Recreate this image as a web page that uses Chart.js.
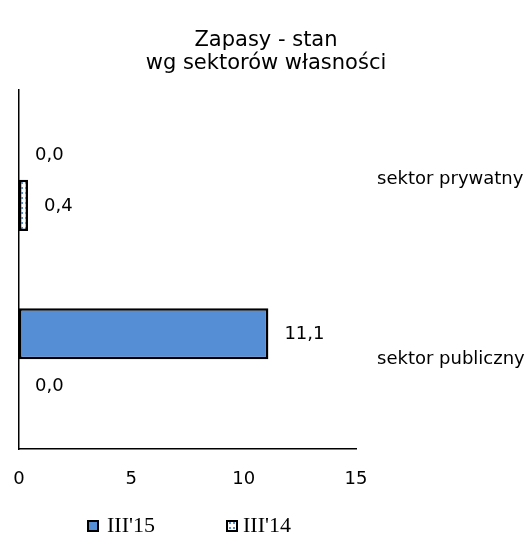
<!DOCTYPE html>
<html>
<head>
<title>Zapasy</title>
<script src="https://cdn.jsdelivr.net/npm/chart.js"></script>
<style>
body{margin:0;background:#fff;}
</style>
</head>
<body>
<canvas id="myChart" width="532" height="535"></canvas>
<script>
// dane
const categories = ['sektor prywatny', 'sektor publiczny'];
const seriesNames = ["III'15", "III'14"];
const values15 = [0.0, 11.1];
const values14 = [0.4, 0.0];
const xTicks = [0, 5, 10, 15];

const blue = 'rgb(85,142,213)';

// wzor w kropki dla III'14
function dotPattern() {
  var c = document.createElement('canvas');
  c.width = 4; c.height = 5;
  var g = c.getContext('2d');
  g.fillStyle = '#fff';
  g.fillRect(0, 0, 4, 5);
  g.fillStyle = blue;
  g.fillRect(1, 2, 2, 2);
  return g.createPattern(c, 'repeat');
}

// etykiety wartosci przy slupkach
const valueLabels = {
  id: 'valueLabels',
  afterDatasetsDraw(chart) {
    const ctx = chart.ctx;
    ctx.save();
    ctx.font = '18px "DejaVu Sans"';
    ctx.fillStyle = '#000';
    ctx.textAlign = 'left';
    ctx.textBaseline = 'middle';
    chart.data.datasets.forEach((ds, i) => {
      chart.getDatasetMeta(i).data.forEach((el, j) => {
        var txt = ds.data[j].toFixed(1).replace('.', ',');
        ctx.fillText(txt, el.x + 16, el.y + 1);
      });
    });
    ctx.restore();
  }
};

// legenda na dole (wlasna, zeby odstepy byly jak w oryginale)
const bottomLegend = {
  id: 'bottomLegend',
  afterDraw(chart) {
    const ctx = chart.ctx;
    const pos = [[88, 107], [227, 243]];
    ctx.save();
    ctx.font = '22px "Liberation Serif"';
    ctx.textBaseline = 'middle';
    ctx.textAlign = 'left';
    chart.data.datasets.forEach((ds, i) => {
      ctx.fillStyle = ds.backgroundColor;
      ctx.fillRect(pos[i][0], 521, 10, 10);
      ctx.strokeStyle = '#000';
      ctx.lineWidth = 2;
      ctx.strokeRect(pos[i][0], 521, 10, 10);
      ctx.fillStyle = '#000';
      ctx.fillText(ds.label, pos[i][1], 526);
    });
    ctx.restore();
  }
};

const data = {
  labels: categories,
  datasets: [{
    label: seriesNames[0],
    data: values15,
    backgroundColor: blue,
    borderColor: '#000',
    borderWidth: c => (c.raw === 0 ? 0 : 2.5),
    borderSkipped: false
  }, {
    label: seriesNames[1],
    data: values14,
    backgroundColor: dotPattern(),
    borderColor: '#000',
    borderWidth: c => (c.raw === 0 ? 0 : 2.5),
    borderSkipped: false
  }]
};

const config = {
  type: 'bar',
  data: data,
  options: {
    indexAxis: 'y',
    responsive: false,
    animation: false,
    layout: { padding: { left: 0, right: 0, top: 0, bottom: 40 } },
    datasets: { bar: { categoryPercentage: 0.57, barPercentage: 1 } },
    scales: {
      x: {
        min: 0, max: 15,
        afterBuildTicks: s => { s.ticks = xTicks.map(v => ({ value: v })); },
        grid: { display: false },
        border: { display: true, color: '#000', width: 1.5 },
        ticks: { color: '#000', font: { family: 'DejaVu Sans', size: 18 }, padding: 12 },
        afterFit: s => { s.height = 46; s.paddingLeft = 0; s.paddingRight = 0; }
      },
      y: {
        position: 'left',
        grid: { display: false },
        border: { display: true, color: '#000', width: 1.5 },
        ticks: { display: false },
        afterFit: s => { s.width = 19; }
      },
      y2: {
        type: 'category',
        position: 'right',
        labels: categories,
        offset: true,
        grid: { display: false },
        border: { display: false },
        ticks: { color: '#000', font: { family: 'DejaVu Sans', size: 18 }, padding: 13 },
        afterFit: s => { s.width = 176; }
      }
    },
    plugins: {
      title: {
        display: true,
        text: ['Zapasy - stan', 'wg sektorów własności'],
        color: '#000',
        font: { family: 'DejaVu Sans', size: 21, weight: 'normal', lineHeight: 1.05 },
        padding: { top: 30, bottom: 16 }
      },
      legend: { display: false },
      tooltip: { enabled: false }
    }
  },
  plugins: [valueLabels, bottomLegend]
};

const myChart = new Chart(document.getElementById('myChart'), config);
</script>
</body>
</html>
